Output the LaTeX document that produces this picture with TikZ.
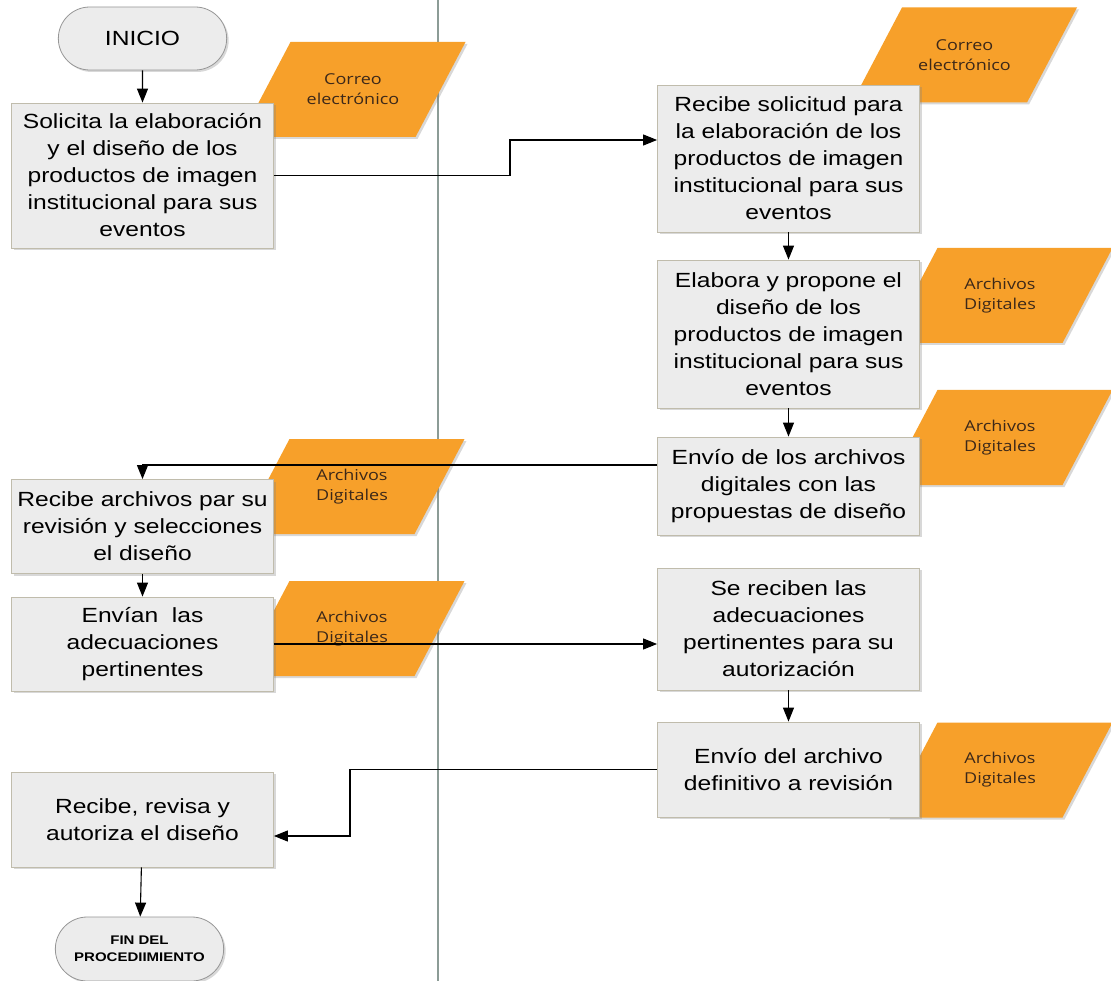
\documentclass[tikz,border=0pt]{standalone}
\usepackage{fontspec}
\setmainfont{Liberation Sans}[FakeStretch=1.2]
\newfontfamily\docfont{Open Sans}[FakeStretch=1.2]
\usetikzlibrary{shapes.misc,arrows.meta,shadows}
\definecolor{cajafondo}{RGB}{236,236,236}
\definecolor{cajaborde}{RGB}{192,188,172}
\definecolor{termborde}{RGB}{150,150,150}
\definecolor{naranja}{RGB}{247,160,42}
\definecolor{doctexto}{RGB}{60,40,25}
\definecolor{carril}{RGB}{140,156,150}
% documento: nombre, x, y, texto
\newcommand\documento[4]{%
  \fill[naranja,sombra] (#2-62.5,#3-47.5) -- (#2+112.5,#3-47.5) -- (#2+62.5,#3+47.5)
    -- (#2-112.5,#3+47.5) -- cycle;
  \node[doctxt] (#1) at (#2,#3) {#4};}

\begin{document}
\begin{tikzpicture}[x=1pt,y=-1pt,
  sombra/.style={drop shadow={opacity=0.3,shadow xshift=2pt,shadow yshift=-2pt}},
  proc/.style={draw=cajaborde,fill=cajafondo,line width=0.8pt,minimum width=262pt,inner sep=2pt,
    align=center,font=\fontsize{20.5}{27}\selectfont,sombra},
  term/.style={rounded rectangle,draw=termborde,fill=cajafondo,line width=0.8pt,minimum width=175pt,
    minimum height=63pt,align=center,sombra},
  doctxt/.style={text=doctexto,align=center,font=\docfont\fontsize{15}{20}\selectfont},
  flecha/.style={line width=1.1pt,-{Triangle[length=14pt,width=11pt]}}]
  \useasboundingbox (0,0) rectangle (1111,981);
  \fill[white] (0,0) rectangle (1111,981);
  \draw[carril,line width=1.6pt] (438,0) -- (438,981);

  % documentos
  \documento{d1}{353}{89.5}{Correo\\electrónico}
  \documento{d2}{964.5}{55}{Correo\\electrónico}
  \documento{d3}{1000}{295.5}{Archivos\\Digitales}
  \documento{d4}{1000}{437.5}{Archivos\\Digitales}
  \documento{d5}{352}{486.5}{Archivos\\Digitales}
  \documento{d6}{352}{628.5}{Archivos\\Digitales}
  \documento{d7}{1000}{770}{Archivos\\Digitales}

  % solicitante
  \node[term,font=\fontsize{20.5}{25}\selectfont] (ini) at (142.5,38.5) {INICIO};
  \node[proc,minimum height=145pt] (s1) at (142.5,175.5)
    {Solicita la elaboración\\y el diseño de los\\productos de imagen\\institucional para sus\\eventos};
  \node[proc,minimum height=94pt] (s2) at (142.5,526.5)
    {Recibe archivos par su\\revisión y selecciones\\el diseño};
  \node[proc,minimum height=94pt] (s3) at (142.5,644) {Envían\ \ las\\adecuaciones\\pertinentes};
  \node[proc,minimum height=95pt] (s4) at (142.5,819.5) {Recibe, revisa y\\autoriza el diseño};
  \node[term,font=\bfseries\fontsize{12.5}{17}\selectfont,minimum height=64pt] (fin) at (139.5,949)
    {FIN DEL\\PROCEDIIMIENTO};

  % area de diseno
  \node[proc,minimum height=147pt] (r1) at (788.5,158.5)
    {Recibe solicitud para\\la elaboración de los\\productos de imagen\\institucional para sus\\eventos};
  \node[proc,minimum height=148pt] (el) at (788.5,334)
    {Elabora y propone el\\diseño de los\\productos de imagen\\institucional para sus\\eventos};
  \node[proc,minimum height=98pt] (ev) at (788.5,486)
    {Envío de los archivos\\digitales con las\\propuestas de diseño};
  \node[proc,minimum height=122pt] (rc) at (788.5,629)
    {Se reciben las\\adecuaciones\\pertinentes para su\\autorización};
  \node[proc,minimum height=95pt] (ea) at (788.5,769.5) {Envío del archivo\\definitivo a revisión};

  \coordinate (c1) at (510,140);
  \coordinate (c2) at (350,836);
  \draw[flecha] (ini) -- (s1);
  \draw[flecha] (s1.east) -| (c1) -- (c1 -| r1.west);
  \draw[flecha] (r1) -- (el);
  \draw[flecha] (el) -- (ev);
  \draw[flecha] ([yshift=21pt]ev.west) -| (s2.north);
  \draw[flecha] (s2) -- (s3);
  \draw[flecha] (s3.east) -- (s3.east -| rc.west);
  \draw[flecha] (rc) -- (ea);
  \draw[flecha] (ea.west) -| (c2) -- (c2 -| s4.east);
  \draw[flecha] (s4) -- (fin);
\end{tikzpicture}
\end{document}
